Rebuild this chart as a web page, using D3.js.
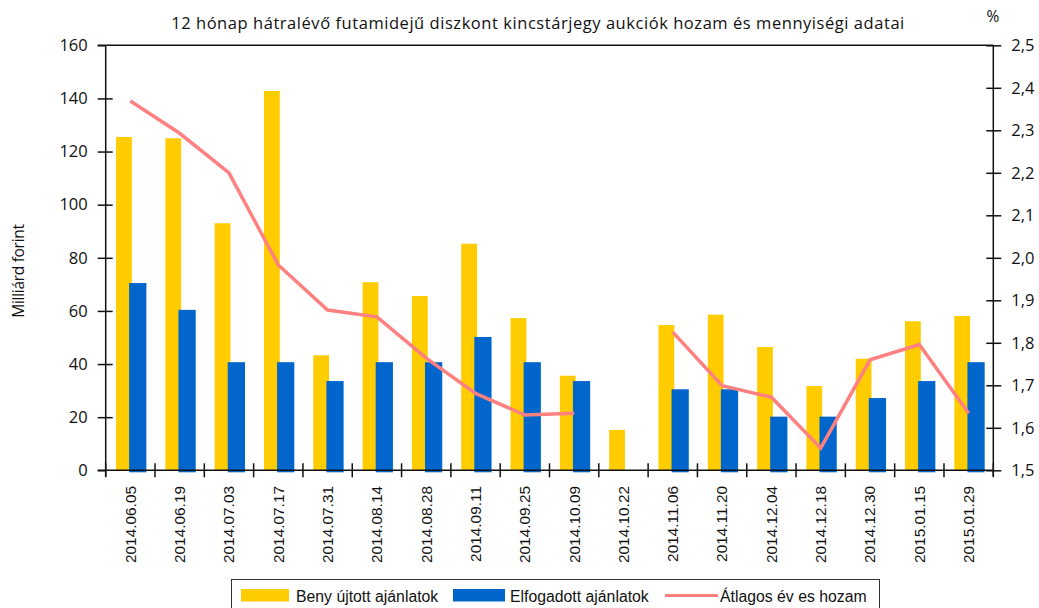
<!DOCTYPE html>
<html>
<head>
<meta charset="utf-8">
<script src="https://cdn.jsdelivr.net/npm/d3@7"></script>
<style>
  body { margin: 0; background: #fff; }
  svg { display: block; }
  .axis text { font-family: "Open Sans", sans-serif; font-size: 16.5px; fill: #111; }
  .axis path, .axis line { stroke: #111; stroke-width: 1.5px; }
  .xlabels text { font-family: "Liberation Sans", Arial, sans-serif; font-size: 15.4px; fill: #111; }
  .legend text { font-family: "Liberation Sans", Arial, sans-serif; font-size: 15.8px; fill: #111; }
</style>
</head>
<body>
<div id="chart"></div>
<script>
const dates = ["2014.06.05", "2014.06.19", "2014.07.03", "2014.07.17", "2014.07.31", "2014.08.14",
  "2014.08.28", "2014.09.11", "2014.09.25", "2014.10.09", "2014.10.22", "2014.11.06",
  "2014.11.20", "2014.12.04", "2014.12.18", "2014.12.30", "2015.01.15", "2015.01.29"]
const submitted = [125.5, 125, 93, 142.8, 43.3, 70.8, 65.6, 85.3, 57.3, 35.6, 15.2, 54.7, 58.6, 46.4, 31.7, 42, 56.1, 58.1]
const accepted = [70.5, 60.4, 40.7, 40.7, 33.6, 40.7, 40.7, 50.2, 40.7, 33.6, null, 30.5, 30.5, 20.2, 20.2, 27.2, 33.6, 40.7]
const avgYield = [2.369, 2.293, 2.200, 1.983, 1.877, 1.861, 1.764, 1.681, 1.630, 1.634, null, 1.825, 1.699, 1.672, 1.552, 1.760, 1.796, 1.634]
const leftTicks = [0, 20, 40, 60, 80, 100, 120, 140, 160]
const rightTicks = [1.5, 1.6, 1.7, 1.8, 1.9, 2.0, 2.1, 2.2, 2.3, 2.4, 2.5]
const seriesNames = ["Beny újtott ajánlatok", "Elfogadott ajánlatok", "Átlagos év es hozam"]

const fullwidth = 1039, fullheight = 608;
const mLeft = 105.7, mRight = 993.3, mTop = 45.3, mBottom = 470.3;
const yellow = "#ffcc00", blue = "#0066cc", red = "#ff8080";

const svg = d3.select("#chart").append("svg")
  .attr("width", fullwidth)
  .attr("height", fullheight);

const x = d3.scaleBand().domain(dates).range([mLeft, mRight]).padding(0);
const yL = d3.scaleLinear().domain([0, 160]).range([mBottom, mTop]);
const yR = d3.scaleLinear().domain([1.5, 2.5]).range([mBottom, mTop]);
const bw = x.bandwidth();

// bars
svg.append("g").selectAll("rect")
  .data(dates)
  .join("rect")
  .attr("x", d => x(d) + 0.21 * bw)
  .attr("width", 0.32 * bw)
  .attr("y", (d, i) => yL(submitted[i]))
  .attr("height", (d, i) => mBottom - yL(submitted[i]))
  .attr("fill", yellow);

svg.append("g").selectAll("rect")
  .data(dates.filter((d, i) => accepted[i] != null))
  .join("rect")
  .attr("x", d => x(d) + 0.475 * bw)
  .attr("width", 0.35 * bw)
  .attr("y", d => yL(accepted[dates.indexOf(d)]))
  .attr("height", d => mBottom - yL(accepted[dates.indexOf(d)]) + 2)
  .attr("fill", blue);

// yield line
const line = d3.line()
  .defined(d => d[1] != null)
  .x(d => x(d[0]) + bw / 2)
  .y(d => yR(d[1]));

svg.append("path")
  .datum(dates.map((d, i) => [d, avgYield[i]]))
  .attr("fill", "none")
  .attr("stroke", red)
  .attr("stroke-width", 3.5)
  .attr("stroke-linejoin", "miter")
  .attr("d", line);

// frame top
svg.append("line")
  .attr("x1", mLeft - 8).attr("x2", mRight)
  .attr("y1", mTop).attr("y2", mTop)
  .attr("stroke", "#111").attr("stroke-width", 1.5);

// left axis
const axL = svg.append("g").attr("class", "axis")
  .attr("transform", `translate(${mLeft},0)`)
  .call(d3.axisLeft(yL).tickValues(leftTicks).tickSize(8).tickPadding(10));
axL.select(".domain").remove();
axL.append("line").attr("y1", mTop).attr("y2", mBottom + 6);
axL.selectAll(".tick line").attr("x1", d => (d === 0 || d === 160) ? 0 : 7);

// right axis
const axR = svg.append("g").attr("class", "axis")
  .attr("transform", `translate(${mRight},0)`)
  .call(d3.axisRight(yR).tickValues(rightTicks).tickSize(8).tickPadding(10)
    .tickFormat(d => d3.format(".1f")(d).replace(".", ",")));
axR.select(".domain").remove();
axR.append("line").attr("y1", mTop).attr("y2", mBottom + 6);
axR.selectAll(".tick line").attr("x1", -7);

svg.append("text")
  .attr("x", 993).attr("y", 22)
  .attr("text-anchor", "middle")
  .style("font-family", "'Open Sans', sans-serif").style("font-size", "15.5px").style("fill", "#111")
  .text("%");

// x axis: line, boundary ticks, rotated labels
const axX = svg.append("g").attr("class", "axis");
axX.append("line").attr("x1", mLeft - 8).attr("x2", mRight).attr("y1", mBottom).attr("y2", mBottom);
axX.selectAll(".bt")
  .data(dates.map(d => x(d)).concat([mRight]))
  .join("line")
  .attr("class", "bt")
  .attr("x1", d => d).attr("x2", d => d)
  .attr("y1", mBottom - 7).attr("y2", mBottom + 7);

svg.append("g").attr("class", "xlabels")
  .selectAll("text")
  .data(dates)
  .join("text")
  .attr("transform", d => `translate(${x(d) + bw / 2},${486}) rotate(-90)`)
  .attr("text-anchor", "end")
  .attr("dy", "0.35em")
  .text(d => d);

// titles
svg.append("text")
  .attr("x", 538).attr("y", 29)
  .attr("text-anchor", "middle")
  .style("font-family", "'Open Sans', sans-serif").style("font-size", "16.5px").style("fill", "#111")
  .style("letter-spacing", "0.55px")
  .text("12 hónap hátralévő futamidejű diszkont kincstárjegy aukciók hozam és mennyiségi adatai");

svg.append("text")
  .attr("transform", "translate(24,271) rotate(-90)")
  .attr("text-anchor", "middle")
  .style("font-family", "'Open Sans', sans-serif").style("font-size", "15.5px").style("fill", "#111")
  .style("letter-spacing", "-0.3px")
  .text("Milliárd forint");

// legend
const legend = svg.append("g").attr("class", "legend");
legend.append("rect")
  .attr("x", 231.5).attr("y", 579.5).attr("width", 648).attr("height", 40)
  .attr("fill", "none").attr("stroke", "#333").attr("stroke-width", 1);

const legendItems = [
  { name: seriesNames[0], color: yellow, type: "rect", x0: 241, x1: 289, tx: 296 },
  { name: seriesNames[1], color: blue, type: "rect", x0: 453, x1: 505, tx: 510 },
  { name: seriesNames[2], color: red, type: "line", x0: 665, x1: 718, tx: 720 }
];
legendItems.forEach(it => {
  if (it.type === "rect") {
    legend.append("rect").attr("x", it.x0).attr("y", 589).attr("width", it.x1 - it.x0).attr("height", 12.5).attr("fill", it.color);
  } else {
    legend.append("line").attr("x1", it.x0).attr("x2", it.x1).attr("y1", 595.5).attr("y2", 595.5)
      .attr("stroke", it.color).attr("stroke-width", 3);
  }
  legend.append("text").attr("x", it.tx).attr("y", 601.5).text(it.name);
});
</script>
</body>
</html>
